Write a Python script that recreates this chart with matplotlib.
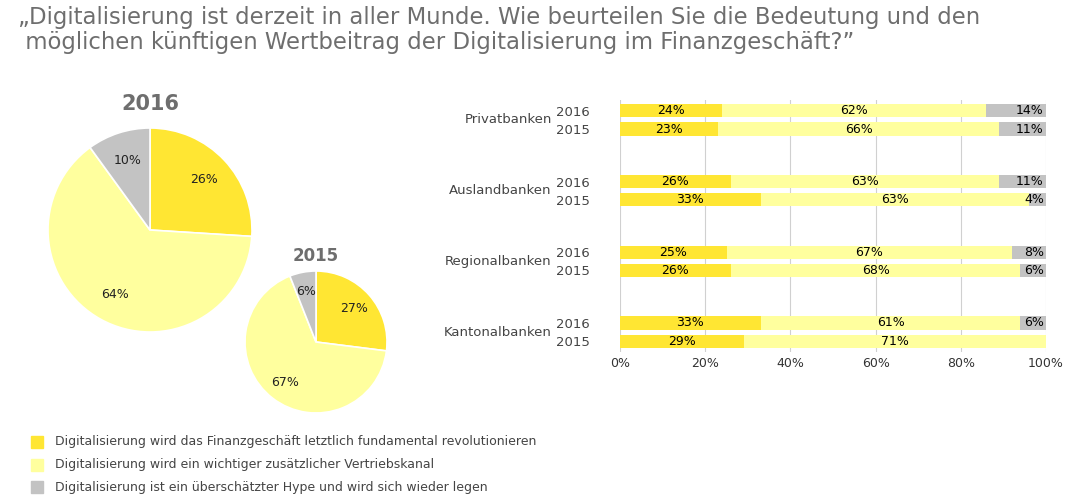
import numpy as np
import matplotlib.pyplot as plt

W, H = 1078, 499

title = ("\u201eDigitalisierung ist derzeit in aller Munde. Wie beurteilen Sie die Bedeutung und den\n"
         " m\u00f6glichen k\u00fcnftigen Wertbeitrag der Digitalisierung im Finanzgesch\u00e4ft?\u201d")
legend_labels = [
    "Digitalisierung wird das Finanzgesch\u00e4ft letztlich fundamental revolutionieren",
    "Digitalisierung wird ein wichtiger zus\u00e4tzlicher Vertriebskanal",
    "Digitalisierung ist ein \u00fcbersch\u00e4tzter Hype und wird sich wieder legen",
]
pie_2016 = [26, 64, 10]
pie_2015 = [27, 67, 6]

groups = ["Privatbanken", "Auslandbanken", "Regionalbanken", "Kantonalbanken"]
years = ["2016", "2015"]
revol = [[24, 23], [26, 33], [25, 26], [33, 29]]
vertrieb = [[62, 66], [63, 63], [67, 68], [61, 71]]
hype = [[14, 11], [11, 4], [8, 6], [6, 0]]

colors = ["#FFE633", "#FFFF9E", "#C3C3C3"]
gray = "#6E6E6E"

fig = plt.figure(figsize=(W / 100, H / 100), dpi=100)
fig.patch.set_facecolor("white")

def fx(px): return px / W
def fy(py): return 1 - py / H

fig.text(fx(18), fy(6), title, fontsize=16.4, color=gray, va="top", ha="left",
         linespacing=1.1)

def draw_pie(cx, cy, r, vals, yr, fs_year, gap):
    ax = fig.add_axes([fx(cx - r), fy(cy + r), 2 * r / W, 2 * r / H])
    wedges, _, autotexts = ax.pie(vals, colors=colors, startangle=90, counterclock=False,
                                  autopct="%d%%", pctdistance=0.72,
                                  wedgeprops=dict(linewidth=1.2, edgecolor="white"),
                                  textprops=dict(fontsize=9, color="#222222"))
    ax.set_aspect("auto")
    ax.set_xlim(-1, 1); ax.set_ylim(-1, 1)
    for t, v in zip(autotexts, vals):
        t.set_text(f"{v}%")
    fig.text(fx(cx), fy(cy - r - gap), yr, fontsize=fs_year, fontweight="bold",
             color=gray, ha="center", va="bottom")

draw_pie(150, 230, 102, pie_2016, "2016", 15, 14)
draw_pie(316, 342, 71, pie_2015, "2015", 12, 6)

# bar chart
ax = fig.add_axes([fx(620), fy(352), fx(1046) - fx(620), (352 - 100) / H])
pos = []
for gi in range(len(groups)):
    for yi in range(len(years)):
        pos.append(gi * 3.9 + yi * 1.0)
pos = np.array(pos)
r_ = np.array(revol).ravel()
v_ = np.array(vertrieb).ravel()
h_ = np.array(hype).ravel()
bh = 0.72
ax.barh(pos, r_, height=bh, color=colors[0])
ax.barh(pos, v_, left=r_, height=bh, color=colors[1])
ax.barh(pos, h_, left=r_ + v_, height=bh, color=colors[2])
for p, a, b, c in zip(pos, r_, v_, h_):
    ax.text(a / 2, p, f"{a}%", ha="center", va="center", fontsize=9)
    ax.text(a + b / 2, p, f"{b}%", ha="center", va="center", fontsize=9)
    if c > 0:
        ax.text(100 - 0.5, p, f"{c}%", ha="right", va="center", fontsize=9)
ax.set_xlim(0, 100)
ax.set_ylim(pos.max() + 0.6, pos.min() - 0.6)
ax.set_xticks([0, 20, 40, 60, 80, 100])
ax.set_xticklabels(["0%", "20%", "40%", "60%", "80%", "100%"], fontsize=9, color="#333333")
ax.xaxis.grid(True, color="#D0D0D0", linewidth=0.8)
ax.set_axisbelow(True)
ax.set_yticks(pos)
ax.set_yticklabels(years * len(groups), fontsize=9.5, color="#444444")
ax.tick_params(axis="both", length=0)
ax.tick_params(axis="y", pad=22)
for s in ax.spines.values():
    s.set_visible(False)
for gi, g in enumerate(groups):
    ax.text(-16, gi * 3.9 + 0.5, g, ha="right", va="center", fontsize=9.5,
            color="#444444", transform=ax.transData, clip_on=False)

# legend
for i, lab in enumerate(legend_labels):
    y = 442 + i * 22.5
    fig.patches.append(plt.Rectangle((fx(31), fy(y + 6)), 12 / W, 12 / H,
                                     transform=fig.transFigure, color=colors[i]))
    fig.text(fx(55), fy(y), lab, fontsize=9, color="#444444", va="center")

fig.savefig("out.png", dpi=100)
